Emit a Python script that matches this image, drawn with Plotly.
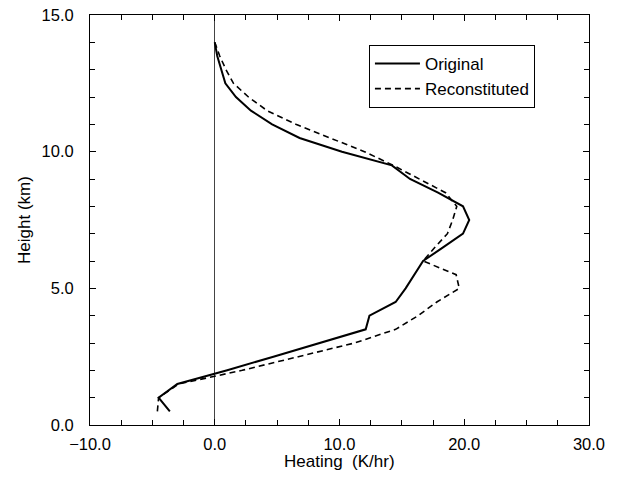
import plotly.graph_objects as go

# Heights (km)
orig_height = [0.5, 1.0, 1.5, 2.0, 2.5, 3.0, 3.5, 4.0, 4.5, 5.0, 5.5, 6.0, 6.5, 7.0,
               7.5, 8.0, 8.5, 9.0, 9.5, 10.0, 10.5, 11.0, 11.5, 12.0, 12.5, 13.0, 13.5, 14.0]
orig_heating = [-3.6, -4.5, -3.0, 1.0, 4.7, 8.4, 12.1, 12.4, 14.5, 15.3, 16.0, 16.7, 18.3, 19.9,
                20.4, 19.9, 17.9, 15.65, 14.2, 10.2, 6.8, 4.6, 2.9, 1.7, 0.85, 0.5, 0.2, 0.0]

recon_height = [0.5, 1.0, 1.5, 2.0, 2.5, 3.0, 3.5, 4.0, 4.5, 5.0, 5.5, 6.0, 6.5, 7.0,
                7.5, 8.0, 8.5, 9.0, 9.5, 10.0, 10.5, 11.0, 11.5, 12.0, 12.5, 13.0, 13.5, 14.0]
recon_heating = [-4.6, -4.5, -2.9, 2.2, 6.7, 11.2, 14.5, 16.3, 17.8, 19.6, 19.35, 16.7, 17.65, 18.65,
                 19.07, 19.4, 18.5, 16.45, 14.3, 12.0, 9.3, 6.5, 4.2, 2.7, 1.5, 0.9, 0.4, 0.0]

x_tickvals = [-10, 0, 10, 20, 30]
x_ticktext = ["\u221210.0", "0.0", "10.0", "20.0", "30.0"]
y_tickvals = [0, 5, 10, 15]
y_ticktext = ["0.0", "5.0", "10.0", "15.0"]

FS = 16.5
TS = 17

fig = go.Figure()
fig.add_trace(go.Scatter(x=orig_heating, y=orig_height, mode="lines", name="Original",
                         line=dict(color="black", width=2)))
fig.add_trace(go.Scatter(x=recon_heating, y=recon_height, mode="lines", name="Reconstituted",
                         line=dict(color="black", width=1.6, dash="6px,4px")))

axis_common = dict(showgrid=False, showline=True, linecolor="black", linewidth=1,
                   mirror="ticks", ticks="inside", ticklen=6, tickcolor="black",
                   automargin=False, ticklabeloverflow="allow",
                   tickfont=dict(size=FS, color="black"))

fig.update_xaxes(range=[-10, 30], tickvals=x_tickvals, ticktext=x_ticktext,
                 minor=dict(dtick=2.5, ticks="inside", ticklen=5, tickcolor="black"),
                 zeroline=True, zerolinecolor="#444", zerolinewidth=1,
                 ticklabelstandoff=4,
                 **axis_common)
fig.update_yaxes(range=[0, 15], tickvals=y_tickvals, ticktext=y_ticktext,
                 minor=dict(dtick=1, ticks="inside", ticklen=5, tickcolor="black"),
                 zeroline=False, ticklabelstandoff=12,
                 title=dict(text="Height (km)", font=dict(size=TS, color="black"), standoff=6),
                 **axis_common)

fig.add_annotation(text="Heating\u00a0 (K/hr)", xref="paper", yref="paper",
                   x=0.5, y=-0.09, xanchor="center", yanchor="middle",
                   showarrow=False, font=dict(size=TS, color="black"))

fig.update_layout(
    width=617, height=477,
    margin=dict(l=90, r=28, t=15, b=52),
    paper_bgcolor="white", plot_bgcolor="white",
    font=dict(family="Liberation Sans, Arial, sans-serif", size=FS, color="black"),
    legend=dict(x=0.559, y=0.927, xanchor="left", yanchor="top",
                bordercolor="black", borderwidth=1, bgcolor="white",
                font=dict(size=17), tracegroupgap=0, itemwidth=45),
    showlegend=True,
)

fig.write_html("out.html", config={"displayModeBar": False},
               post_script="document.body.style.margin='0';document.body.style.overflow='hidden';")
